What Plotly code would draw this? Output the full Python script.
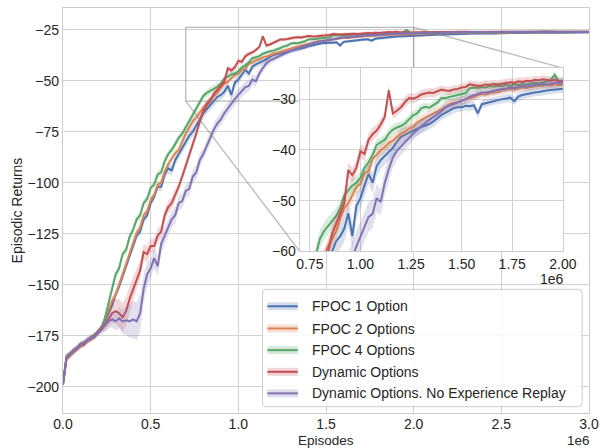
import plotly.graph_objects as go

# ---------------- data ----------------
# episodes (in millions): 0.00..2.00 every 0.02, then 2.05..3.00 every 0.05
EPISODES_M = [round(i * 0.02, 2) for i in range(101)] + [round(2.0 + (i + 1) * 0.05, 2) for i in range(20)]
EPISODES = [v * 1e6 for v in EPISODES_M]

SERIES_NAMES = ["FPOC 1 Option", "FPOC 2 Options", "FPOC 4 Options",
                "Dynamic Options", "Dynamic Options. No Experience Replay"]

FPOC1 = [
    -198.5, -186, -184.5, -183, -181, -180, -178.5, -177.5, -176, -175,
    -173.5, -172, -168, -164, -160, -155, -151, -146, -141, -135,
    -131, -126, -124, -118, -116, -110, -107, -102, -102, -96,
    -93, -94, -89, -86, -83, -80, -77, -75, -72, -69,
    -66, -64, -62, -60, -58, -57, -55.5, -52.5, -57, -51,
    -49.5, -47, -44.7, -46.5, -43.2, -42, -41.2, -40.5, -39.6, -38.4,
    -37.4, -37, -36.6, -36.2, -35.8, -35.5, -35.2, -34.9, -34.4, -33.8,
    -33.1, -32.7, -32.3, -31.8, -31.6, -31.6, -31.3, -31.4, -31.2, -32.8,
    -31.0, -30.8, -30.5, -30.3, -30.2, -30.0, -29.9, -29.7, -30.4, -29.5,
    -29.2, -29.0, -28.9, -28.7, -28.6, -28.4, -28.3, -28.2, -28.1, -28.0,
    -28.0,
    -27.8, -27.6, -27.4, -27.3, -27.1, -27.0, -26.9, -26.8, -26.9, -26.7,
    -26.6, -26.7, -26.5, -26.6, -26.4, -26.5, -26.4, -26.3, -26.4, -26.3,
]
FPOC2 = [
    -199, -186.5, -185, -183, -181.5, -180, -179, -177.5, -176.5, -175.5,
    -173.5, -171.5, -167, -162, -158, -155, -150, -145, -140, -134,
    -130, -124.5, -122, -116, -114, -108.5, -106, -101, -100, -94.5,
    -91, -88, -85.5, -84, -80, -76, -73, -70, -68, -65.5,
    -63, -61, -59, -57.5, -56, -53.5, -51.5, -50.5, -49, -47.3,
    -46.7, -44.5, -44.2, -41.8, -41, -40, -39.5, -38.6, -38.2, -37.4,
    -36.8, -36.4, -35.8, -35.5, -34.6, -34.1, -33.7, -33.3, -32.9, -32.4,
    -32.0, -31.5, -31.0, -30.7, -30.6, -30.3, -30.0, -29.8, -29.6, -29.2,
    -29.0, -29.1, -28.8, -28.7, -28.6, -28.3, -28.2, -28.0, -28.1, -27.9,
    -27.7, -27.8, -27.6, -27.5, -27.4, -27.4, -27.2, -27.3, -27.1, -27.2,
    -27.1,
    -26.9, -26.8, -26.7, -26.8, -26.6, -26.5, -26.6, -26.4, -26.5, -26.3,
    -26.4, -26.3, -26.2, -26.4, -26.3, -26.2, -26.3, -26.1, -26.2, -26.2,
]
FPOC4 = [
    -198, -185.5, -184, -182.5, -181, -179.5, -178.5, -177.5, -176, -175,
    -173, -171, -166, -159, -152.5, -145, -142, -135, -133, -126.5,
    -123, -118, -116, -110, -108, -102.5, -101, -96, -95, -89.5,
    -86, -84, -81, -78, -76, -73, -70, -67, -64, -60.5,
    -57.5, -56, -55, -54, -53, -51.5, -49, -48, -47, -46.5,
    -45.5, -43.5, -42.5, -41, -39, -38.5, -38, -36.8, -36, -35.6,
    -35.3, -34.8, -34, -33.2, -32.8, -31.8, -31.5, -31.7, -31.2, -30.7,
    -29.8, -29.8, -29.6, -29.4, -29.2, -29.0, -28.8, -27.9, -27.7, -27.8,
    -27.6, -27.7, -27.4, -27.5, -27.3, -27.4, -27.2, -27.4, -27.1, -27.2,
    -27.0, -27.1, -26.9, -26.8, -26.9, -26.7, -26.5, -26.3, -25.2, -26.6,
    -26.6,
    -26.5, -26.6, -26.4, -26.5, -26.3, -26.4, -26.2, -26.4, -26.3, -26.2,
    -26.3, -26.1, -26.3, -26.2, -26.2, -26.1, -26.3, -26.2, -26.1, -26.2,
]
DYNAMIC = [
    -199, -185, -184, -182, -181.5, -179, -179.5, -177, -176.5, -175,
    -173, -171, -170, -167, -164, -163, -164, -166, -163, -157,
    -152, -147, -143, -134, -135, -131, -131, -126, -124, -116,
    -112, -110, -106, -102, -97, -92, -86, -81, -76, -70,
    -65, -62, -60, -56.5, -54.5, -52.5, -50.5, -44, -45, -43.5,
    -40.3, -40.8, -38, -36.9, -36.2, -35, -33.5, -28.3, -32.8, -32.3,
    -31.6, -30.6, -29.8, -29.9, -29.6, -29.1, -28.9, -28.7, -28.8, -28.5,
    -28.1, -28.3, -28.4, -28.1, -28.0, -27.7, -27.6, -27.1, -27.3, -27.4,
    -27.3, -27.1, -27.2, -27.0, -27.1, -26.9, -26.8, -26.7, -26.8, -26.5,
    -26.6, -26.4, -26.5, -26.2, -26.3, -26.1, -26.3, -26.4, -26.2, -26.5,
    -26.4,
    -26.3, -26.2, -26.4, -26.1, -26.2, -26.0, -26.2, -26.1, -25.9, -26.1,
    -26.0, -26.2, -26.0, -26.1, -25.9, -26.0, -26.1, -26.0, -26.1, -26.0,
]
DYNAMIC_NO_ER = [
    -199, -185.5, -184, -182.5, -181, -179.5, -178.5, -177, -176, -175.5,
    -173.5, -172, -170, -168, -167, -168, -166.5, -168, -167.5, -168,
    -167, -168, -164, -152, -145, -142, -137, -141, -130, -126,
    -122, -118, -116, -110, -109, -104, -103, -97, -95, -89,
    -86, -82, -78, -74, -71, -69, -66, -63.5, -61, -59,
    -57, -55, -53.2, -52.6, -49.5, -50.3, -46.5, -43.8, -41.5, -40.2,
    -39.3, -38.5, -37.7, -36.8, -36.1, -35.3, -34.7, -34.1, -33.5, -33.0,
    -32.4, -31.6, -31.3, -30.9, -30.6, -30.3, -30.0, -29.5, -29.2, -29.0,
    -28.7, -28.7, -28.5, -28.4, -28.2, -28.0, -27.9, -27.7, -27.8, -27.6,
    -27.4, -27.5, -27.3, -27.2, -27.1, -27.0, -27.1, -26.9, -26.8, -26.8,
    -26.7,
    -26.6, -26.5, -26.4, -26.5, -26.3, -26.4, -26.2, -26.3, -26.2, -26.1,
    -26.3, -26.2, -26.1, -26.2, -26.0, -26.2, -26.1, -26.2, -26.1, -26.2,
]

# half-width of the shaded confidence band of each series
SPREAD_FPOC1 = [
    0.5, 1.5, 1.5, 1.5, 1.5, 1.5, 1.5, 1.5, 1.5, 1.5,
    1.5, 1.5, 2, 2, 2, 2, 2, 2, 2, 2,
    2, 2, 2, 2, 2, 2, 2, 2, 2.5, 2.5,
    2.5, 2.5, 2.5, 2.5, 2.5, 2.5, 2.5, 2.5, 2.5, 2.5,
    2.5, 2.5, 2.5, 2.5, 2.5, 2.5, 2.5, 2.5, 2.5, 2.5,
    2.2, 2.2, 2, 2, 2, 1.8, 1.8, 1.6, 1.6, 1.5,
    1.5, 1.4, 1.4, 1.3, 1.3, 1.2, 1.2, 1.1, 1.1, 1.0,
    1.0, 1.0, 1.0, 1.0, 0.9, 0.9, 0.9, 0.9, 0.9, 0.9,
    0.8, 0.8, 0.8, 0.8, 0.8, 0.8, 0.8, 0.8, 0.8, 0.8,
    0.8, 0.8, 0.8, 0.8, 0.8, 0.8, 0.8, 0.8, 0.8, 0.8,
    0.8,
    0.6, 0.6, 0.6, 0.6, 0.6, 0.6, 0.6, 0.6, 0.6, 0.6,
    0.6, 0.6, 0.6, 0.6, 0.6, 0.6, 0.6, 0.6, 0.6, 0.6,
]
SPREAD_FPOC2 = [
    0.5, 1.5, 1.5, 1.5, 1.5, 1.5, 1.5, 1.5, 1.5, 1.5,
    1.5, 1.5, 1.8, 1.8, 1.8, 1.8, 1.8, 1.8, 1.8, 1.8,
    1.8, 1.8, 1.8, 1.8, 1.8, 1.8, 1.8, 1.8, 1.8, 1.8,
    1.8, 1.8, 1.8, 1.8, 1.8, 1.8, 1.8, 1.8, 1.8, 1.8,
    1.5, 1.5, 1.5, 1.5, 1.5, 1.5, 1.5, 1.5, 1.5, 1.5,
    1.3, 1.3, 1.3, 1.3, 1.2, 1.2, 1.2, 1.2, 1.1, 1.1,
    1.1, 1.0, 1.0, 1.0, 1.0, 1.0, 1.0, 0.9, 0.9, 0.9,
    0.9, 0.9, 0.9, 0.8, 0.8, 0.8, 0.8, 0.8, 0.8, 0.8,
    0.7, 0.7, 0.7, 0.7, 0.7, 0.7, 0.7, 0.7, 0.7, 0.7,
    0.7, 0.7, 0.7, 0.7, 0.7, 0.7, 0.7, 0.7, 0.7, 0.7,
    0.7,
    0.6, 0.6, 0.6, 0.6, 0.6, 0.6, 0.6, 0.6, 0.6, 0.6,
    0.6, 0.6, 0.6, 0.6, 0.6, 0.6, 0.6, 0.6, 0.6, 0.6,
]
SPREAD_FPOC4 = [
    0.5, 1.5, 1.5, 1.5, 1.5, 1.5, 1.5, 1.5, 1.5, 1.5,
    1.5, 1.5, 2, 2, 2, 2, 2, 2, 2, 2,
    2, 2, 2, 2, 2, 2, 2, 2, 2, 2,
    2, 2, 2, 2, 2, 2, 2, 2, 2, 2,
    1.8, 1.8, 1.8, 1.6, 1.6, 1.5, 1.5, 1.4, 1.4, 1.3,
    1.3, 1.2, 1.2, 1.1, 1.1, 1.0, 1.0, 1.0, 1.0, 1.0,
    0.9, 0.9, 0.9, 0.9, 0.9, 0.9, 0.8, 0.8, 0.8, 0.8,
    0.8, 0.8, 0.8, 0.8, 0.8, 0.8, 0.8, 0.8, 0.8, 0.8,
    0.7, 0.7, 0.7, 0.7, 0.7, 0.7, 0.7, 0.7, 0.7, 0.7,
    0.7, 0.7, 0.7, 0.7, 0.7, 0.7, 0.7, 0.7, 0.7, 0.7,
    0.7,
    0.6, 0.6, 0.6, 0.6, 0.6, 0.6, 0.6, 0.6, 0.6, 0.6,
    0.6, 0.6, 0.6, 0.6, 0.6, 0.6, 0.6, 0.6, 0.6, 0.6,
]
SPREAD_DYNAMIC = [
    0.5, 1.5, 1.5, 1.5, 1.5, 1.5, 1.5, 1.5, 1.5, 1.5,
    1.5, 2, 3, 4, 5, 6, 7, 7, 7, 6.5,
    6, 5, 4.5, 4, 4, 3.5, 3.5, 3.5, 3, 3,
    3, 3, 3, 2.5, 2.5, 2.5, 2.5, 2.5, 2.5, 2.5,
    2.2, 2.2, 2, 2, 1.8, 1.8, 1.6, 1.6, 1.5, 1.5,
    1.4, 1.4, 1.3, 1.3, 1.2, 1.2, 1.1, 1.1, 1.1, 1.0,
    1.0, 1.0, 1.0, 0.9, 0.9, 0.9, 0.9, 0.9, 0.9, 0.9,
    0.8, 0.8, 0.8, 0.8, 0.8, 0.8, 0.8, 0.8, 0.8, 0.8,
    0.8, 0.8, 0.8, 0.8, 0.8, 0.8, 0.8, 0.8, 0.8, 0.8,
    0.8, 0.8, 0.8, 0.8, 0.8, 0.8, 0.8, 0.8, 0.8, 0.8,
    0.8,
    0.6, 0.6, 0.6, 0.6, 0.6, 0.6, 0.6, 0.6, 0.6, 0.6,
    0.6, 0.6, 0.6, 0.6, 0.6, 0.6, 0.6, 0.6, 0.6, 0.6,
]
SPREAD_DYNAMIC_NO_ER = [
    0.5, 1.5, 1.5, 1.5, 1.5, 1.5, 1.5, 1.5, 1.5, 1.5,
    1.5, 2, 3, 3.5, 4, 4.5, 5, 6, 7, 8,
    9, 9.5, 9, 7, 6, 5, 5, 5, 4.5, 4.5,
    4, 4, 4, 3.5, 3.5, 3.5, 3.5, 3.5, 3.5, 3.5,
    3, 3, 3, 3, 3, 3, 3, 3, 3, 3,
    3, 3, 3, 2.8, 2.8, 2.6, 2.4, 2.2, 2, 1.8,
    1.6, 1.5, 1.4, 1.3, 1.2, 1.2, 1.1, 1.1, 1.0, 1.0,
    1.0, 1.0, 0.9, 0.9, 0.9, 0.9, 0.9, 0.9, 0.9, 0.9,
    0.8, 0.8, 0.8, 0.8, 0.8, 0.8, 0.8, 0.8, 0.8, 0.8,
    0.8, 0.8, 0.8, 0.8, 0.8, 0.8, 0.8, 0.8, 0.8, 0.8,
    0.8,
    0.6, 0.6, 0.6, 0.6, 0.6, 0.6, 0.6, 0.6, 0.6, 0.6,
    0.6, 0.6, 0.6, 0.6, 0.6, 0.6, 0.6, 0.6, 0.6, 0.6,
]

MEANS = [FPOC1, FPOC2, FPOC4, DYNAMIC, DYNAMIC_NO_ER]
SPREADS = [SPREAD_FPOC1, SPREAD_FPOC2, SPREAD_FPOC4, SPREAD_DYNAMIC, SPREAD_DYNAMIC_NO_ER]
for arr in MEANS + SPREADS:
    assert len(arr) == len(EPISODES), len(arr)

MAIN_XTICKS = [0.0, 0.5, 1.0, 1.5, 2.0, 2.5, 3.0]
MAIN_YTICKS = [-200, -175, -150, -125, -100, -75, -50, -25]
INSET_XTICKS = [0.75, 1.00, 1.25, 1.50, 1.75, 2.00]
INSET_YTICKS = [-60, -50, -40, -30]

# ---------------- style ----------------
COLORS = ["#4C72B0", "#DD8452", "#55A868", "#C44E52", "#8172B3"]
BAND_ALPHA = 0.22
TEXT = "#262626"
GRID = "#d2d2d2"
SPINE = "#cccccc"
FONT = "Arial, 'Liberation Sans', sans-serif"
FS = 14

W, H = 610, 448
ML, MR, MT, MB = 63, 10, 7, 35
PW, PH = W - ML - MR, H - MT - MB


def px2x(px):
    return (px - ML) / PW


def px2y(py):
    return (H - MB - py) / PH


def rgba(hexc, a):
    h = hexc.lstrip("#")
    return "rgba(%d,%d,%d,%.3f)" % (int(h[0:2], 16), int(h[2:4], 16), int(h[4:6], 16), a)


def minus(v, fmt):
    s = fmt.format(abs(v))
    return ("\u2212" + s) if v < 0 else s


MAIN_XR = [0, 3.0e6]
MAIN_YR = [-212.9, -14.4]
INS_XR = [0.7e6, 2.0e6]
INS_YR = [-60, -23.9]
INS_XD = [px2x(304.7), px2x(573.3)]
INS_YD = [px2y(251), px2y(67.3)]

fig = go.Figure()

for axes in (("x", "y"), ("x2", "y2")):
    for name, mean, spr, col in zip(SERIES_NAMES, MEANS, SPREADS, COLORS):
        upper = [m + s for m, s in zip(mean, spr)]
        lower = [m - s for m, s in zip(mean, spr)]
        fig.add_trace(go.Scatter(
            x=EPISODES + EPISODES[::-1], y=upper + lower[::-1],
            fill="toself", fillcolor=rgba(col, BAND_ALPHA), line=dict(width=0),
            mode="lines", hoverinfo="skip", showlegend=False,
            xaxis=axes[0], yaxis=axes[1]))
        fig.add_trace(go.Scatter(
            x=EPISODES, y=mean, mode="lines", name=name,
            line=dict(color=col, width=2), showlegend=False,
            xaxis=axes[0], yaxis=axes[1]))

# zoom indicator rectangle and connector lines (on main axes)
def paper_to_main(fx, fy):
    return (MAIN_XR[0] + fx * (MAIN_XR[1] - MAIN_XR[0]),
            MAIN_YR[0] + fy * (MAIN_YR[1] - MAIN_YR[0]))

IND = "rgba(128,128,128,0.55)"
fig.add_trace(go.Scatter(
    x=[INS_XR[0], INS_XR[1], INS_XR[1], INS_XR[0], INS_XR[0]],
    y=[INS_YR[0], INS_YR[0], INS_YR[1], INS_YR[1], INS_YR[0]],
    mode="lines", line=dict(color=IND, width=1.3), hoverinfo="skip", showlegend=False))
bl = paper_to_main(INS_XD[0], INS_YD[0])
tr = paper_to_main(INS_XD[1], INS_YD[1])
fig.add_trace(go.Scatter(x=[INS_XR[0], bl[0]], y=[INS_YR[0], bl[1]], mode="lines",
                         line=dict(color=IND, width=1.3), hoverinfo="skip", showlegend=False))
fig.add_trace(go.Scatter(x=[INS_XR[1], tr[0]], y=[INS_YR[1], tr[1]], mode="lines",
                         line=dict(color=IND, width=1.3), hoverinfo="skip", showlegend=False))

axis_common = dict(showgrid=True, gridcolor=GRID, gridwidth=1.2, zeroline=False,
                   showline=True, mirror=True, linecolor=SPINE, linewidth=1.3,
                   ticks="", tickfont=dict(size=FS, color=TEXT, family=FONT))

fig.update_layout(
    width=W, height=H, margin=dict(l=ML, r=MR, t=MT, b=MB),
    paper_bgcolor="white", plot_bgcolor="white", showlegend=False,
    font=dict(family=FONT, size=FS, color=TEXT),
    xaxis=dict(domain=[0, 1], range=MAIN_XR, tickmode="array",
               tickvals=[t * 1e6 for t in MAIN_XTICKS], ticklabelstandoff=-2,
               ticktext=["%.1f" % t for t in MAIN_XTICKS], **axis_common),
    yaxis=dict(domain=[0, 1], range=MAIN_YR, tickmode="array",
               tickvals=MAIN_YTICKS, ticktext=[minus(t, "{:d}") for t in MAIN_YTICKS],
               **axis_common),
    xaxis2=dict(domain=INS_XD, range=INS_XR, anchor="y2", tickmode="array",
                tickvals=[t * 1e6 for t in INSET_XTICKS],
                ticktext=["%.2f" % t for t in INSET_XTICKS], **axis_common),
    yaxis2=dict(domain=INS_YD, range=INS_YR, anchor="x2", tickmode="array",
                tickvals=INSET_YTICKS, ticktext=[minus(t, "{:d}") for t in INSET_YTICKS],
                **axis_common),
)

shapes = [
    # white background for the inset (drawn in the inset's own layer, below its grid)
    dict(type="rect", xref="x2", yref="y2", x0=INS_XR[0], x1=INS_XR[1],
         y0=INS_YR[0], y1=INS_YR[1], fillcolor="white", line=dict(width=0), layer="below"),
]

# legend box (rounded) in paper coordinates
lx0, lx1, ly0, ly1 = px2x(266.7), px2x(593), px2y(406.7), px2y(289)
rx, ry = 4 / PW, 4 / PH
path = ("M {a},{b} L {c},{b} Q {d},{b} {d},{e} L {d},{f} Q {d},{g} {c},{g} "
        "L {a},{g} Q {h},{g} {h},{f} L {h},{e} Q {h},{b} {a},{b} Z").format(
    a=lx0 + rx, b=ly0, c=lx1 - rx, d=lx1, e=ly0 + ry, f=ly1 - ry, g=ly1, h=lx0)
shapes.append(dict(type="path", xref="paper", yref="paper", path=path,
                   fillcolor="rgba(255,255,255,0.85)", line=dict(color=SPINE, width=1),
                   layer="above"))
annotations = []
ROWS = [306, 328.3, 350, 371.7, 393.3]
for name, col, ry_px in zip(SERIES_NAMES, COLORS, ROWS):
    yc = px2y(ry_px)
    shapes.append(dict(type="rect", xref="paper", yref="paper",
                       x0=px2x(271.7), x1=px2x(302.7), y0=yc - 4 / PH, y1=yc + 4 / PH,
                       fillcolor=rgba(col, 0.25), line=dict(width=0), layer="above"))
    shapes.append(dict(type="line", xref="paper", yref="paper",
                       x0=px2x(271.7), x1=px2x(302.7), y0=yc, y1=yc,
                       line=dict(color=col, width=2), layer="above"))
    annotations.append(dict(xref="paper", yref="paper", x=px2x(315), y=yc, text=name,
                            showarrow=False, xanchor="left", yanchor="middle",
                            font=dict(size=FS, color=TEXT, family=FONT)))

annotations += [
    dict(xref="paper", yref="paper", x=0.5, y=px2y(440.5), text="Episodes", showarrow=False,
         xanchor="center", yanchor="middle", font=dict(size=13.5, color=TEXT, family=FONT)),
    dict(xref="paper", yref="paper", x=px2x(589), y=px2y(440.5), text="1e6", showarrow=False,
         xanchor="center", yanchor="middle", font=dict(size=13.5, color=TEXT, family=FONT)),
    dict(xref="paper", yref="paper", x=px2x(16), y=px2y(210), text="Episodic Returns",
         textangle=-90, showarrow=False, xanchor="center", yanchor="middle",
         font=dict(size=FS, color=TEXT, family=FONT)),
    dict(xref="paper", yref="paper", x=px2x(562.5), y=px2y(278.3), text="1e6", showarrow=False,
         xanchor="center", yanchor="middle", font=dict(size=FS, color=TEXT, family=FONT)),
]

fig.update_layout(shapes=shapes, annotations=annotations)
fig.write_html("out.html", config={"displayModeBar": False},
               post_script="document.body.style.margin='0px';")
